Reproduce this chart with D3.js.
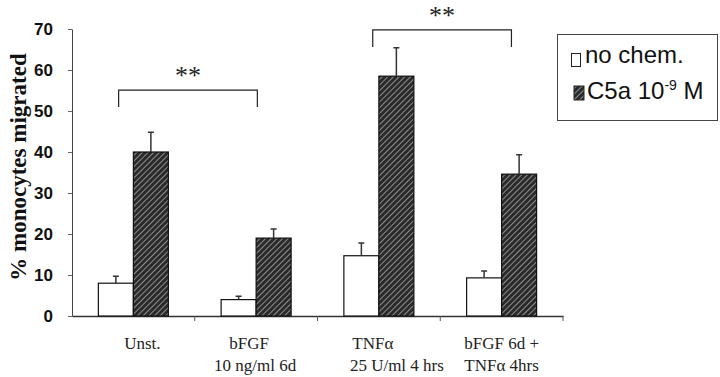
<!DOCTYPE html>
<html>
<head>
<meta charset="utf-8">
<script src="https://cdn.jsdelivr.net/npm/d3@7"></script>
<style>
  body { margin: 0; background: #fff; }
  svg { display: block; }
</style>
</head>
<body>
<script>
const categories = ['Unst.', 'bFGF', 'TNFa', 'bFGF+TNFa']
const catLabels = [['Unst.'], ['bFGF', '10 ng/ml 6d'], ['TNF\u03b1', '25 U/ml 4 hrs'], ['bFGF 6d +', 'TNF\u03b1 4hrs']]
const noChem = [8.0, 4.0, 14.7, 9.3]
const noChemErr = [1.7, 0.8, 3.1, 1.7]
const c5a = [40.0, 19.0, 58.5, 34.6]
const c5aErr = [4.8, 2.2, 6.9, 4.7]
const yTicks = [0, 10, 20, 30, 40, 50, 60, 70]
const brackets = [
  { from: 0, to: 1, top: 55.1, foot: 51, label: '**' },
  { from: 2, to: 3, top: 69.8, foot: 65.6, label: '**' }
]

const width = 720, height = 377
const margin = { top: 29, left: 72, bottom: 61 }
const plotRight = 563

const svg = d3.select('body').append('svg')
  .attr('width', width)
  .attr('height', height)

const defs = svg.append('defs')
const pat = defs.append('pattern')
  .attr('id', 'hatch')
  .attr('patternUnits', 'userSpaceOnUse')
  .attr('width', 4).attr('height', 4)
  .attr('patternTransform', 'rotate(45)')
pat.append('rect').attr('width', 4).attr('height', 4).attr('fill', '#2a2a2a')
pat.append('line').attr('x1', 0).attr('y1', 0).attr('x2', 0).attr('y2', 4)
  .attr('stroke', '#d0d0d0').attr('stroke-width', 1.2)

const xScale = d3.scaleBand()
  .domain(categories)
  .range([margin.left, plotRight])
  .paddingInner(0).paddingOuter(0)

const barW = 35
const series = [
  { key: 'noChem', values: noChem, err: noChemErr, fill: '#fff', off: -barW },
  { key: 'c5a', values: c5a, err: c5aErr, fill: 'url(#hatch)', off: 0 }
]

const yScale = d3.scaleLinear()
  .domain([0, 70])
  .range([height - margin.bottom, margin.top])

// y axis
const yAxis = svg.append('g')
  .attr('transform', `translate(${margin.left},0)`)
  .call(d3.axisLeft(yScale).tickValues(yTicks).tickSize(4).tickPadding(15).tickSizeOuter(0))
yAxis.select('.domain').attr('stroke', '#444').attr('stroke-width', 1)
yAxis.selectAll('.tick line').attr('stroke', '#666')
yAxis.selectAll('text')
  .style('font-family', 'Liberation Sans, Arial, sans-serif')
  .style('font-weight', 'bold')
  .style('font-size', '17px')
  .attr('fill', '#111')

// x axis
const cx = d => xScale(d) + xScale.bandwidth() / 2
const xAxis = svg.append('g')
  .attr('transform', `translate(0,${yScale(0)})`)
  .call(d3.axisBottom(xScale).tickSize(0).tickFormat(''))
xAxis.select('.domain').attr('stroke', '#333').attr('stroke-width', 1.3)
const bounds = categories.map(c => xScale(c)).concat([plotRight])
xAxis.selectAll('.sep')
  .data(bounds.slice(1))
  .enter().append('line')
  .attr('x1', d => d).attr('x2', d => d)
  .attr('y1', 0).attr('y2', 5)
  .attr('stroke', '#555')

// x labels
const labelDx = [[9], [-7, -1], [-6, 18], [0, 0]]
categories.forEach((c, i) => {
  catLabels[i].forEach((line, j) => {
    svg.append('text')
      .attr('x', cx(c) + labelDx[i][j])
      .attr('y', 349 + j * 22)
      .attr('text-anchor', 'middle')
      .style('font-family', 'Liberation Serif, Times New Roman, serif')
      .style('font-size', '17px')
      .attr('fill', '#222')
      .text(line)
  })
})

// bars
series.forEach(s => {
  const g = svg.append('g')
  g.selectAll('rect')
    .data(categories)
    .enter().append('rect')
    .attr('x', d => cx(d) + s.off)
    .attr('y', (d, i) => yScale(s.values[i]))
    .attr('width', barW)
    .attr('height', (d, i) => yScale(0) - yScale(s.values[i]))
    .attr('fill', s.fill)
    .attr('stroke', '#111')
    .attr('stroke-width', 1.2)
  g.selectAll('.err')
    .data(categories)
    .enter().append('path')
    .attr('class', 'err')
    .attr('d', (d, i) => {
      const x = cx(d) + s.off + barW / 2
      const y0 = yScale(s.values[i]), y1 = yScale(s.values[i] + s.err[i])
      return `M${x},${y0}V${y1}M${x - 3},${y1}H${x + 3}`
    })
    .attr('stroke', '#333')
    .attr('stroke-width', 1.5)
    .attr('fill', 'none')
})

// significance brackets
const fracs = [[0.38, 0.51], [0.45, 0.58]]
brackets.forEach((b, i) => {
  const x1 = xScale(categories[b.from]) + fracs[i][0] * xScale.bandwidth()
  const x2 = xScale(categories[b.to]) + fracs[i][1] * xScale.bandwidth()
  svg.append('path')
    .attr('d', `M${x1},${yScale(b.foot)}V${yScale(b.top)}H${x2}V${yScale(b.foot)}`)
    .attr('stroke', '#222').attr('stroke-width', 1.2).attr('fill', 'none')
  svg.append('text')
    .attr('x', (x1 + x2) / 2)
    .attr('y', yScale(b.top) - 6)
    .attr('text-anchor', 'middle')
    .style('font-family', 'Liberation Serif, serif')
    .style('font-size', '26px')
    .attr('fill', '#222')
    .text(b.label)
})

// y label
svg.append('text')
  .attr('transform', 'translate(26,167) rotate(-90)')
  .attr('text-anchor', 'middle')
  .style('font-family', 'Liberation Serif, Times New Roman, serif')
  .style('font-weight', 'bold')
  .style('font-size', '23px')
  .attr('fill', '#111')
  .text('% monocytes migrated')

// legend
const legend = svg.append('g')
legend.append('rect')
  .attr('x', 557.5).attr('y', 34.5).attr('width', 160).attr('height', 86)
  .attr('fill', '#fff').attr('stroke', '#444').attr('stroke-width', 1)
legend.append('rect')
  .attr('x', 571.5).attr('y', 53.5).attr('width', 9).attr('height', 13)
  .attr('fill', '#fff').attr('stroke', '#222').attr('stroke-width', 1)
legend.append('rect')
  .attr('x', 574).attr('y', 86).attr('width', 10).attr('height', 14)
  .attr('fill', 'url(#hatch)').attr('stroke', '#222').attr('stroke-width', 1)
const lt = legend.append('g')
  .style('font-family', 'Liberation Sans, Arial, sans-serif')
  .style('font-size', '24px')
  .attr('fill', '#111')
lt.append('text').attr('x', 585).attr('y', 63).text('no chem.')
const t2 = lt.append('text').attr('x', 587).attr('y', 99)
t2.append('tspan').text('C5a 10')
t2.append('tspan').attr('dy', -9).style('font-size', '14px').text('-9')
t2.append('tspan').attr('dy', 9).text(' M')
</script>
</body>
</html>
